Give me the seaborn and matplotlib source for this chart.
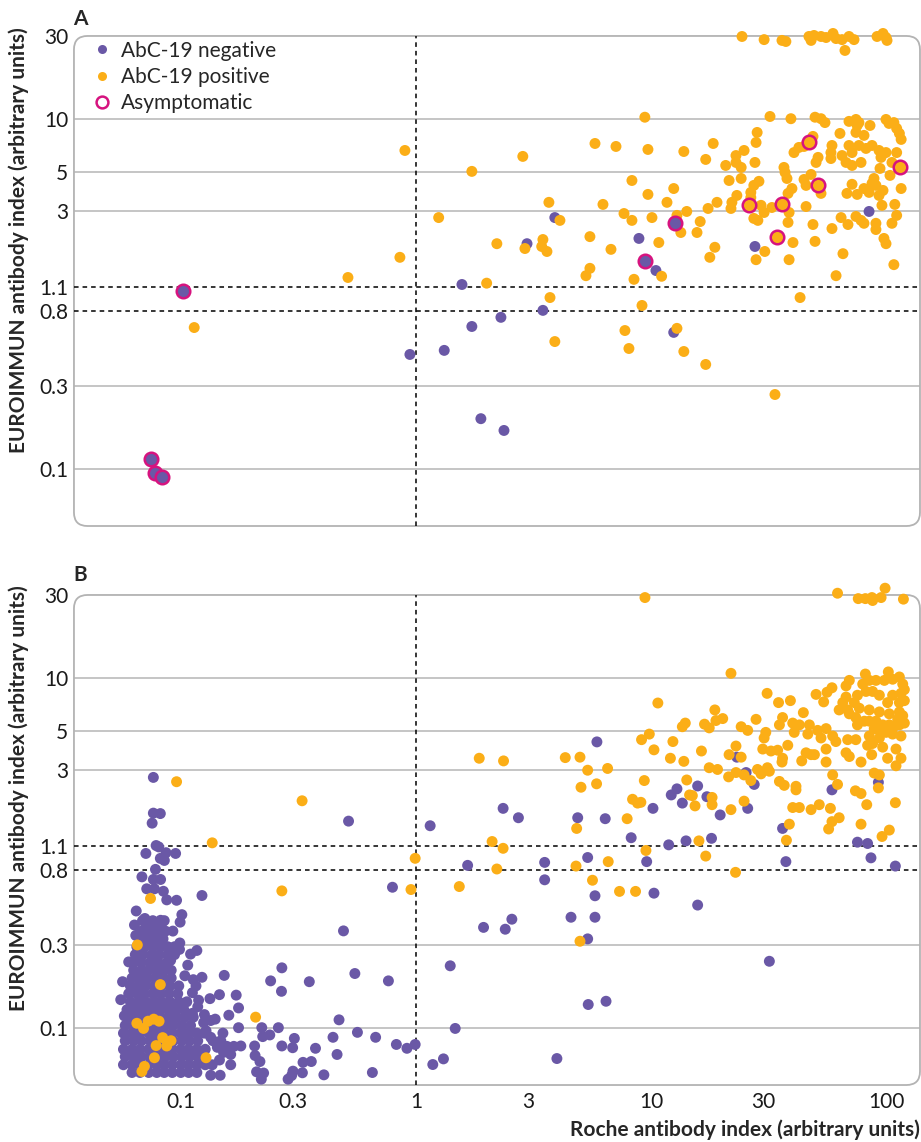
import matplotlib
matplotlib.use("Agg")
import matplotlib.pyplot as plt
import seaborn as sns
import pandas as pd
from matplotlib.lines import Line2D
from matplotlib.patches import FancyBboxPatch

# ---- Panel A data (Roche index, EUROIMMUN index) ----
pos_a = [
    (0.898, 6.65), (1.25, 2.75), (0.855, 1.63), (0.514, 1.25), (0.114, 0.647),
    (9.42, 10.3), (5.78, 7.29), (7.10, 7.01), (9.71, 6.74), (13.8, 6.56), (2.85, 6.15),
    (1.73, 5.05), (8.30, 4.48), (12.5, 4.03), (9.71, 3.73), (3.68, 3.36), (6.25, 3.27),
    (11.7, 3.36), (7.68, 2.90), (4.10, 2.65), (8.30, 2.65), (10.1, 2.75), (12.9, 2.83),
    (14.2, 2.98), (13.4, 2.26), (2.21, 1.95), (3.47, 2.06), (3.43, 1.88), (2.91, 1.83),
    (3.61, 1.76), (5.50, 2.14), (6.76, 1.81), (10.8, 1.98), (8.47, 1.22), (11.1, 1.27),
    (5.50, 1.41), (5.29, 1.28), (2.0, 1.16), (3.72, 0.96), (9.16, 0.865), (7.75, 0.622),
    (12.9, 0.64), (3.90, 0.538), (8.06, 0.491), (13.8, 0.472), (17.1, 0.398), (33.7, 0.268),
    (43.1, 0.96),
    (24.4, 29.8), (30.3, 28.6), (36.1, 28.3), (37.5, 27.9), (47.0, 29.8), (48.0, 28.3),
    (49.4, 30.2), (52.9, 29.8), (55.6, 29.4), (59.5, 31.0), (61.3, 29.0), (65.0, 28.6),
    (69.6, 29.8), (73.1, 28.6), (66.9, 24.8), (91.6, 29.8), (97.1, 31.0), (101, 28.3),
    (100, 29.4),
    (32.1, 10.4), (39.4, 10.1), (49.9, 10.3), (52.9, 10.1), (55.0, 9.6), (69.6, 9.75),
    (74.5, 10.0), (76.7, 9.6), (75.4, 9.24), (85.5, 9.24), (100, 10.0), (103, 9.49),
    (108, 9.6), (111, 8.89), (114, 8.32), (116, 7.69), (63.7, 8.32), (80.6, 8.11),
    (74.5, 8.43), (28.3, 8.43), (28.0, 7.39), (18.4, 7.29), (48.9, 8.0), (42.6, 6.92),
    (40.6, 6.47), (24.9, 6.65), (23.0, 6.22), (23.0, 5.68), (24.2, 5.32), (20.8, 5.46),
    (17.1, 5.91), (27.7, 5.68), (58.9, 7.10), (58.3, 6.47), (65.0, 6.22), (69.6, 7.10),
    (71.7, 6.47), (76.7, 7.10), (82.2, 6.83), (87.2, 7.10), (93.4, 6.65), (100, 6.47),
    (95.2, 6.07), (106, 5.68), (111, 6.47), (67.6, 5.68), (71.7, 5.46), (78.3, 5.68),
    (58.3, 5.98), (50.4, 5.68), (51.4, 6.07), (36.8, 5.32), (37.2, 4.98), (37.9, 4.60),
    (52.9, 3.78), (39.8, 4.03), (38.3, 3.78), (71.7, 4.26), (68.2, 3.78), (75.4, 3.73),
    (80.6, 4.03), (84.7, 3.83), (88.9, 4.60), (87.2, 4.31), (90.6, 4.20), (97.1, 3.93),
    (93.4, 3.68), (116, 4.03), (19.1, 3.36), (17.5, 3.10), (23.2, 3.68), (22.1, 3.36),
    (21.9, 3.10), (29.4, 3.23), (30.3, 2.94), (32.7, 3.14), (38.7, 2.94), (45.7, 3.18),
    (96.1, 3.23), (109, 3.27), (111, 2.83), (27.4, 2.72), (28.5, 2.65), (38.3, 2.58),
    (48.9, 2.51), (64.4, 2.75), (68.9, 2.51), (58.9, 2.38), (74.5, 2.79), (78.3, 2.65),
    (80.6, 2.55), (90.6, 2.55), (90.6, 2.35), (106, 2.55), (16.2, 2.61), (15.7, 2.26),
    (18.7, 1.86), (17.8, 1.63), (30.5, 1.76), (28.0, 1.58), (40.2, 1.98), (38.7, 1.58),
    (49.9, 2.01), (98.0, 2.09), (100, 1.95), (65.6, 1.71), (61.3, 1.28), (108, 1.48),
    (21.5, 4.48), (24.2, 4.60), (28.8, 4.43), (27.4, 4.20), (26.6, 3.83), (44.8, 4.54),
    (45.7, 4.20), (48.0, 4.85), (94.3, 5.25), (104, 4.79), (26.6, 3.58), (44.8, 7.01),
]
neg_a = [
    (0.943, 0.454), (1.32, 0.479), (1.57, 1.14), (3.90, 2.75), (2.97, 1.95), (8.89, 2.09),
    (10.5, 1.37), (3.47, 0.811), (2.30, 0.74), (1.73, 0.656), (12.5, 0.607), (1.89, 0.195),
    (2.37, 0.167), (27.7, 1.88), (84.7, 2.98),
]
asym_pos_a = [(47.0, 7.39), (115, 5.38), (51.4, 4.20), (26.1, 3.23), (36.1, 3.27), (34.4, 2.12)]
asym_neg_a = [(0.102, 1.05), (0.0745, 0.114), (0.0775, 0.096), (0.083, 0.090), (12.7, 2.55), (9.42, 1.55)]

# ---- Panel B data ----
pos_b = [
    (9.43, 29.0), (62.2, 30.7), (76.2, 28.6), (81.7, 28.6), (87.1, 29.0), (87.7, 27.9),
    (95.3, 29.0), (99.1, 32.8), (118.6, 28.4), (21.9, 10.7), (10.7, 7.24), (31.2, 8.22),
    (34.9, 7.28), (39.2, 7.47), (44.5, 6.38), (50.4, 8.11), (54.3, 7.35), (56.1, 8.34),
    (58.9, 8.85), (63.2, 6.61), (67.6, 9.07), (69.8, 9.75), (67.6, 7.83), (65.5, 7.28),
    (81.7, 10.6), (79.6, 9.29), (84.9, 9.75), (90.6, 9.75), (98.4, 9.75), (102.3, 10.9),
    (106.7, 9.9), (114, 10.2), (117.8, 9.29), (119.7, 8.64), (115.8, 8.22), (106.7, 8.02),
    (101.6, 7.28), (114, 7.28), (119.7, 7.47), (93.7, 8.02), (87.7, 8.43), (82.2, 8.43),
    (75.6, 8.02), (73.3, 7.28), (77.0, 6.76), (84.9, 6.61), (93.7, 6.44), (103.3, 6.28),
    (114, 6.44), (117.8, 6.13), (112.1, 5.84), (103.3, 5.43), (96.8, 5.43), (90.6, 5.70),
    (84.9, 5.70), (80.9, 5.70), (74.4, 5.98), (69.8, 6.28), (68.7, 6.61), (75.6, 5.43),
    (89.1, 5.17), (93.7, 5.05), (100, 4.92), (106.7, 5.17), (114, 5.43), (119.7, 5.56),
    (115.8, 4.69), (106.7, 4.81), (93.7, 4.57), (87.7, 4.25), (83.5, 4.15), (74.4, 4.47),
    (68.7, 4.47), (84.9, 4.69), (110.3, 3.95), (101.6, 3.50), (115.8, 3.50), (110.3, 3.17),
    (93.7, 2.81), (89.1, 2.88), (92.8, 2.37), (96.8, 4.05), (86.9, 3.67), (78.3, 3.33),
    (69.8, 3.58), (67.6, 3.76), (74.1, 2.28), (78.3, 2.20), (82.8, 1.90), (78.3, 1.47),
    (96.2, 1.25), (103.3, 1.36), (109.6, 1.95),
    (42.8, 5.43), (47.2, 5.43), (51.2, 5.05), (55.6, 5.17), (59.3, 4.69), (61.2, 4.36),
    (52.9, 4.57), (46.5, 4.81), (40.1, 5.56), (40.7, 4.92), (35.2, 5.43), (36.3, 5.98),
    (28.0, 5.84), (30.8, 4.92), (30.3, 4.57), (24.2, 5.30), (25.8, 5.05), (23.0, 4.11),
    (21.5, 3.67), (24.2, 3.55), (29.9, 3.95), (32.4, 3.85), (34.6, 3.89), (36.3, 3.50),
    (36.1, 3.33), (38.2, 4.15), (43.8, 3.38), (45.7, 3.76), (48.0, 3.67), (49.6, 3.67),
    (55.6, 3.95), (55.6, 3.33), (59.3, 2.81), (62.2, 2.48), (48.0, 1.78), (52.0, 1.90),
    (58.0, 1.81), (63.2, 1.60), (58.9, 1.52), (57.0, 1.38), (40.1, 1.83), (42.8, 1.83),
    (35.2, 2.58), (36.9, 2.45), (41.4, 2.42), (41.4, 2.31), (38.8, 1.47), (37.7, 1.19),
    (28.4, 3.02), (29.4, 2.85), (31.3, 3.09), (31.9, 2.95), (21.4, 2.74), (23.0, 2.90),
    (24.9, 2.81), (26.6, 2.61), (24.9, 1.99), (21.9, 1.78), (18.2, 1.90), (18.2, 2.09),
    (15.0, 2.14), (14.6, 2.16), (15.4, 1.87), (14.2, 2.63), (17.7, 3.09), (19.2, 3.02),
    (16.4, 3.85), (16.9, 5.48), (17.7, 5.22), (18.7, 6.61), (20.2, 5.90), (18.9, 5.75),
    (14.0, 5.56), (13.6, 5.30), (12.4, 4.36), (12.1, 3.50), (10.3, 3.91), (9.84, 4.81),
    (9.12, 4.47), (13.8, 3.36), (9.37, 2.61), (8.35, 2.04), (8.77, 1.94), (9.06, 1.96),
    (7.92, 1.58), (16.0, 1.18), (17.1, 0.966), (22.9, 0.780), (9.52, 1.04), (8.60, 0.607),
    (7.35, 0.607), (6.58, 0.898), (5.38, 2.99), (6.54, 3.06), (5.87, 2.50), (5.04, 2.39),
    (4.32, 3.53), (4.99, 3.55), (4.83, 1.39), (4.80, 0.847), (5.64, 0.703), (4.99, 0.315),
    (2.36, 3.38), (1.86, 3.50), (2.11, 1.17), (2.35, 1.07), (2.21, 0.815), (1.53, 0.647),
    (0.993, 0.938), (0.953, 0.622), (0.0959, 2.57), (0.328, 2.0), (0.136, 1.15),
    (0.269, 0.611), (0.0743, 0.553), (0.0653, 0.30), (0.0818, 0.178), (0.208, 0.116),
    (0.065, 0.107), (0.0694, 0.1), (0.0726, 0.110), (0.0767, 0.113), (0.0808, 0.110),
    (0.0837, 0.0886), (0.0908, 0.0851), (0.0871, 0.0794), (0.0785, 0.0798), (0.0772, 0.068),
    (0.128, 0.068), (0.070, 0.0607), (0.0683, 0.0568),
]
neg_b = [
    (5.89, 4.34), (23.2, 3.55), (25.4, 2.90), (27.5, 2.48), (25.8, 1.81), (19.7, 1.66),
    (17.3, 2.11), (15.8, 2.43), (13.6, 1.94), (12.2, 2.16), (12.9, 2.34), (10.2, 1.81),
    (11.9, 1.12), (14.1, 1.18), (18.1, 1.22), (8.24, 1.23), (9.59, 0.898), (10.3, 0.593),
    (15.8, 0.507), (6.39, 1.58), (4.88, 1.60), (5.38, 0.948), (5.78, 0.573), (5.78, 0.432),
    (4.57, 0.432), (5.38, 0.325), (3.53, 0.889), (3.53, 0.707), (2.35, 1.81), (2.73, 1.60),
    (1.66, 0.855), (1.94, 0.378), (2.40, 0.369), (2.56, 0.421), (5.41, 0.137), (6.44, 0.143),
    (31.9, 0.242), (3.98, 0.0673), (37.5, 0.898), (36.3, 1.39), (58.9, 2.31), (92.8, 2.55),
    (75.6, 1.16), (83.5, 1.14), (86.3, 0.944), (109.6, 0.847),
    (0.0764, 2.72), (0.0764, 1.70), (0.0818, 1.69), (0.0755, 1.49), (0.0785, 1.11),
    (0.0805, 1.09), (0.071, 1.0), (0.0865, 1.01), (0.0818, 0.937), (0.0851, 0.912),
    (0.095, 1.0), (0.078, 0.811), (0.0683, 0.735), (0.0764, 0.71), (0.082, 0.71),
    (0.0716, 0.628), (0.0772, 0.628), (0.0843, 0.608), (0.0871, 0.543), (0.123, 0.575),
    (0.0959, 0.540), (0.0646, 0.469), (0.0703, 0.425), (0.0687, 0.413), (0.076, 0.413),
    (0.082, 0.415), (0.085, 0.413), (0.101, 0.447), (0.0993, 0.405), (0.0643, 0.340),
    (0.099, 0.308), (0.0987, 0.283), (0.110, 0.266), (0.117, 0.279), (0.123, 0.196),
    (0.153, 0.201), (0.113, 0.19), (0.241, 0.187), (0.269, 0.222), (0.352, 0.185),
    (0.268, 0.163), (0.517, 1.53), (1.15, 1.44), (0.795, 0.641), (0.492, 0.361),
    (0.550, 0.206), (0.764, 0.187), (1.40, 0.228), (0.471, 0.112), (0.564, 0.095),
    (0.674, 0.089), (0.444, 0.089), (0.826, 0.081), (0.916, 0.077), (0.993, 0.081),
    (0.462, 0.071), (0.653, 0.056), (0.406, 0.0543), (1.18, 0.0622), (1.31, 0.067),
    (1.47, 0.1), (0.374, 0.077), (0.359, 0.0647), (0.331, 0.064), (0.329, 0.0558),
    (0.30, 0.057), (0.296, 0.0538), (0.286, 0.0513), (0.299, 0.0776), (0.304, 0.0877),
    (0.269, 0.0794), (0.260, 0.101), (0.239, 0.0918), (0.223, 0.0898), (0.221, 0.101),
    (0.206, 0.0794), (0.207, 0.070), (0.217, 0.0647), (0.21, 0.0565), (0.225, 0.0556),
    (0.22, 0.0513), (0.176, 0.101), (0.160, 0.119), (0.176, 0.131), (0.172, 0.155),
    (0.146, 0.156), (0.133, 0.148), (0.134, 0.111), (0.140, 0.113), (0.151, 0.094),
    (0.18, 0.0794), (0.168, 0.079), (0.157, 0.079), (0.152, 0.073), (0.163, 0.071),
    (0.146, 0.066), (0.136, 0.062), (0.163, 0.062), (0.147, 0.054), (0.134, 0.054),
    (0.125, 0.108), (0.126, 0.12),
    (0.0555, 0.146), (0.0565, 0.185), (0.060, 0.24), (0.104, 0.20), (0.107, 0.23),
    (0.112, 0.16), (0.119, 0.145), (0.116, 0.175), (0.128, 0.097), (0.134, 0.089),
    (0.148, 0.085), (0.143, 0.078), (0.112, 0.122), (0.118, 0.133), (0.0575, 0.118),
    (0.0925, 0.36), (0.0635, 0.39), (0.0905, 0.245),
]
# dense cluster of AbC-19 negatives near the origin, read row by row
neg_b_blob = [
    (0.056, [0.062, 0.067, 0.073, 0.079, 0.085, 0.092, 0.100, 0.108, 0.117]),
    (0.062, [0.057, 0.062, 0.067, 0.073, 0.079, 0.085, 0.092, 0.100, 0.108, 0.117, 0.127]),
    (0.069, [0.058, 0.063, 0.068, 0.074, 0.080, 0.086, 0.093, 0.101, 0.109, 0.118, 0.125]),
    (0.076, [0.057, 0.062, 0.067, 0.073, 0.079, 0.085, 0.092, 0.100, 0.108, 0.117, 0.127]),
    (0.085, [0.058, 0.063, 0.068, 0.074, 0.080, 0.086, 0.093, 0.101, 0.109, 0.118, 0.137]),
    (0.094, [0.057, 0.062, 0.067, 0.073, 0.079, 0.085, 0.092, 0.100, 0.108, 0.117, 0.126]),
    (0.104, [0.058, 0.063, 0.068, 0.074, 0.080, 0.086, 0.093, 0.101, 0.110]),
    (0.116, [0.060, 0.065, 0.070, 0.076, 0.082, 0.089, 0.096, 0.104, 0.113]),
    (0.128, [0.059, 0.064, 0.069, 0.075, 0.081, 0.088, 0.095, 0.103]),
    (0.142, [0.061, 0.066, 0.071, 0.077, 0.083, 0.090, 0.098, 0.106]),
    (0.158, [0.060, 0.065, 0.070, 0.076, 0.082, 0.089, 0.097]),
    (0.175, [0.061, 0.066, 0.071, 0.077, 0.083, 0.090, 0.098]),
    (0.194, [0.062, 0.067, 0.072, 0.078, 0.084, 0.091]),
    (0.215, [0.063, 0.068, 0.073, 0.079, 0.085, 0.091]),
    (0.238, [0.063, 0.068, 0.074, 0.080, 0.087]),
    (0.264, [0.064, 0.069, 0.075, 0.081, 0.088, 0.094]),
    (0.293, [0.065, 0.070, 0.076, 0.082, 0.088, 0.094]),
    (0.325, [0.067, 0.072, 0.078, 0.084]),
    (0.360, [0.068, 0.074, 0.080, 0.086]),
    (0.400, [0.071, 0.077, 0.083]),
]

y_ticks = [0.1, 0.3, 0.8, 1.1, 3, 5, 10, 30]
y_tick_labels = ["0.1", "0.3", "0.8", "1.1", "3", "5", "10", "30"]
x_ticks = [0.1, 0.3, 1, 3, 10, 30, 100]
x_tick_labels = ["0.1", "0.3", "1", "3", "10", "30", "100"]

PURPLE = "#6a58a6"
ORANGE = "#fbae17"
MAGENTA = "#d6137f"
GRID = "#c0c0c0"
FS = 15


def to_frame(pos, neg):
    rows = [(x, y, "AbC-19 negative") for x, y in neg]
    rows += [(x, y, "AbC-19 positive") for x, y in pos]
    return pd.DataFrame(rows, columns=["roche", "euro", "group"])


def style_axes(ax, show_xlabels):
    ax.set_xscale("log")
    ax.set_yscale("log")
    ax.set_xlim(0.0351, 139.5)
    ax.set_ylim(0.0475, 30)
    for s in ax.spines.values():
        s.set_visible(False)
    for v in [10, 5, 3, 0.3, 0.1]:
        ax.axhline(v, color=GRID, lw=1.3, zorder=0)
    for v in [1.1, 0.8]:
        ax.axhline(v, color="black", lw=1.1, ls=(0, (3, 2.6)), zorder=1)
    ax.axvline(1, color="black", lw=1.1, ls=(0, (3, 2.6)), zorder=1)
    ax.set_yticks(y_ticks)
    ax.set_yticklabels(y_tick_labels)
    ax.yaxis.set_minor_locator(matplotlib.ticker.NullLocator())
    ax.xaxis.set_minor_locator(matplotlib.ticker.NullLocator())
    ax.set_xticks(x_ticks)
    ax.set_xticklabels(x_tick_labels if show_xlabels else [])
    ax.tick_params(axis="y", length=0, pad=4, labelsize=FS, labelcolor="#1a1a1a")
    ax.tick_params(axis="x", direction="in", length=7, width=1.2, color=GRID,
                   pad=5, labelsize=FS, labelcolor="#1a1a1a")
    ax.set_xlabel("")
    ax.set_ylabel("")
    frame = FancyBboxPatch((0, 0), 1, 1, boxstyle="round,pad=0,rounding_size=0.016",
                           transform=ax.transAxes, mutation_aspect=846 / 490,
                           facecolor="none", edgecolor="#b3b3b3", lw=1.3,
                           clip_on=False, zorder=0.5)
    ax.add_patch(frame)
    ax.grid(False)


sns.set_theme(style="white")
plt.rcParams["font.family"] = ["Lato", "DejaVu Sans"]

fig = plt.figure(figsize=(9.21, 11.42), dpi=100)
ax_a = fig.add_axes([0.0803, 0.5394, 0.9186, 0.4291])
ax_b = fig.add_axes([0.0803, 0.0499, 0.9186, 0.4291])

palette = {"AbC-19 negative": PURPLE, "AbC-19 positive": ORANGE}

# panel A
df_a = to_frame(pos_a, neg_a)
sns.scatterplot(data=df_a, x="roche", y="euro", hue="group", palette=palette,
                s=62, linewidth=0, legend=False, clip_on=False, zorder=3, ax=ax_a)
asym = pd.DataFrame(
    [(x, y, "AbC-19 positive") for x, y in asym_pos_a]
    + [(x, y, "AbC-19 negative") for x, y in asym_neg_a],
    columns=["roche", "euro", "group"])
for grp, sub in asym.groupby("group"):
    ax_a.scatter(sub["roche"], sub["euro"], s=95, color=palette[grp],
                 edgecolors=MAGENTA, linewidths=1.8, zorder=4, clip_on=False)
style_axes(ax_a, False)

# panel B
blob = [(x, y) for y, xs in neg_b_blob for x in xs]
df_b = to_frame(pos_b, blob + neg_b)
df_b = df_b.sort_values("group")
sns.scatterplot(data=df_b, x="roche", y="euro", hue="group", palette=palette,
                s=62, linewidth=0, legend=False, clip_on=False, zorder=3, ax=ax_b)
style_axes(ax_b, True)

handles = [
    Line2D([], [], ls="", marker="o", markersize=6.5, markerfacecolor=PURPLE,
           markeredgecolor="none", label="AbC-19 negative"),
    Line2D([], [], ls="", marker="o", markersize=6.5, markerfacecolor=ORANGE,
           markeredgecolor="none", label="AbC-19 positive"),
    Line2D([], [], ls="", marker="o", markersize=8.5, markerfacecolor="none",
           markeredgecolor=MAGENTA, markeredgewidth=1.8, label="Asymptomatic"),
]
ax_a.legend(handles=handles, loc="upper left", bbox_to_anchor=(0.004, 1.02),
            frameon=False, fontsize=FS, handlelength=1.0, handletextpad=0.4,
            labelspacing=0.3, borderaxespad=0.3)

ylabel = "EUROIMMUN antibody index (arbitrary units)"
fig.text(19 / 921, 1 - 240 / 1142, ylabel, rotation=90, fontsize=FS,
         fontweight="bold", ha="center", va="center")
fig.text(19 / 921, 1 - 798 / 1142, ylabel, rotation=90, fontsize=FS,
         fontweight="bold", ha="center", va="center")
fig.text(80 / 921, 1 - 19 / 1142, "A", fontsize=FS, fontweight="bold",
         ha="center", va="center")
fig.text(80 / 921, 1 - 575 / 1142, "B", fontsize=FS, fontweight="bold",
         ha="center", va="center")
fig.text(920 / 921, 1 - 1130 / 1142, "Roche antibody index (arbitrary units)",
         fontsize=FS, fontweight="bold", ha="right", va="center")

fig.savefig("out.png", dpi=100)
